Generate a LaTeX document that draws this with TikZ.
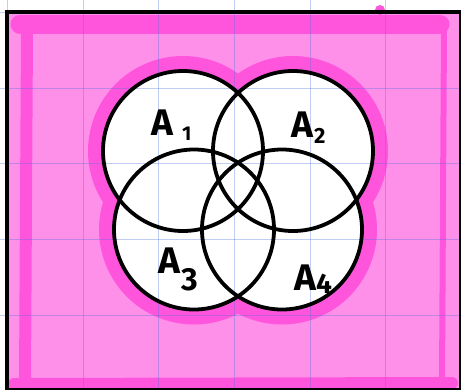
\documentclass[tikz,border=0pt]{standalone}
\usepackage{fontspec}
\setmainfont{Fira Sans}
\definecolor{pinkL}{HTML}{FF90EA}
\definecolor{pinkD}{HTML}{FF55DD}
\definecolor{gridB}{HTML}{5070DC}
\newcommand{\vennlab}[4]{A\hspace{#2}\raisebox{#3}{\fontsize{#4}{#4}\selectfont #1}}
\begin{document}
\begin{tikzpicture}[x=1pt,y=-1pt,
  vcircle/.style={circle, minimum size=160pt, inner sep=0pt, draw=black, line width=3.8pt},
  halo/.style={draw=pinkD, line width=14pt},
  band/.style={draw=pinkD, line cap=round, line join=round},
  gridline/.style={draw=gridB, opacity=0.35, line width=1pt},
  lab/.style={font=\fontsize{37}{37}\bfseries\selectfont, inner sep=0pt, anchor=base west}]
\useasboundingbox (0,0) rectangle (461,389);
\fill[white] (0,0) rectangle (461,389);
\fill[pinkL] (7,12) rectangle (461,389);
\fill[pinkD] (380,10) circle[radius=5pt];
% darker hand-drawn bands
\draw[band, line width=19pt] (20,24) -- (440,24);
\draw[band, line width=12pt] (27,35) -- (26,200) -- (25,385);
\draw[band, line width=12pt] (14,384) -- (452,383);
\draw[band, line width=6pt] (444,30) -- (443,200) -- (442,385);
% halo around the circles
\foreach \c in {(183,151),(293,151),(194,229.5),(282,229.5)}
  \draw[halo] \c circle[radius=88pt];
\foreach \c in {(183,151),(293,151),(194,229.5),(282,229.5)}
  \fill[white] \c circle[radius=80pt];
% grid
\foreach \x in {7.3,83,158.7,234.4,310,385.8}
  \draw[gridline] (\x,0) -- (\x,389);
\foreach \y in {12.3,88,163.7,239.4,315}
  \draw[gridline] (0,\y) -- (461,\y);
% frame
\draw[line width=4pt] (7,12) rectangle (460.5,389.5);
% circles
\node[vcircle] (c1) at (183,151) {};
\node[vcircle] (c2) at (293,151) {};
\node[vcircle] (c3) at (194,229.5) {};
\node[vcircle] (c4) at (282,229.5) {};
% labels
\node[lab] (l1) at (151,135) {\vennlab{1}{9pt}{-5pt}{20}};
\node[lab] (l2) at (291,137) {\vennlab{2}{1pt}{-6pt}{22}};
\node[lab] (l3) at (158,273) {\vennlab{3}{1pt}{-17pt}{32}};
\node[lab] (l4) at (294,290) {\vennlab{4}{0pt}{-3pt}{28}};
\end{tikzpicture}
\end{document}
